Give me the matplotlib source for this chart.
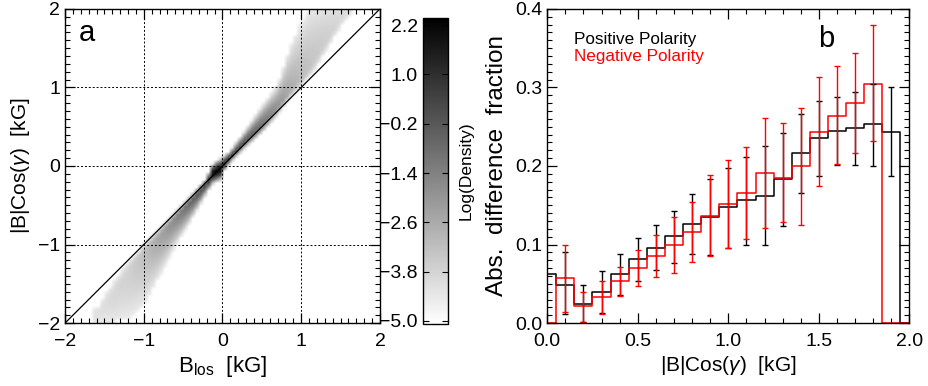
import numpy as np
import matplotlib
matplotlib.use("Agg")
import matplotlib.pyplot as plt
from matplotlib.ticker import MultipleLocator, FormatStrFormatter

plt.rcParams['font.family'] = ['Liberation Sans', 'DejaVu Sans']
plt.rcParams['mathtext.fontset'] = 'custom'
plt.rcParams['mathtext.rm'] = 'Liberation Sans'
plt.rcParams['mathtext.it'] = 'Liberation Sans:italic'

# ---------------- Panel a: density band description ----------------
band_x = [-1.6, -1.4, -1.2, -1.0, -0.8, -0.6, -0.4, -0.2, -0.125, -0.075,
          -0.025, 0.025, 0.1, 0.3, 0.5, 0.7, 0.85, 1.0, 1.15, 1.3, 1.5, 1.65]
band_core = [-1.90, -1.65, -1.35, -1.10, -0.88, -0.66, -0.44, -0.22, -0.10, -0.075,
             -0.05, 0.02, 0.10, 0.31, 0.50, 0.72, 0.92, 1.10, 1.30, 1.55, 1.86, 2.0]
band_w_in = [0.08, 0.14, 0.13, 0.10, 0.08, 0.07, 0.06, 0.06, 0.12, 0.14,
             0.14, 0.09, 0.06, 0.07, 0.09, 0.08, 0.07, 0.10, 0.12, 0.12, 0.10, 0.05]
band_w_out = [0.08, 0.32, 0.57, 0.66, 0.52, 0.36, 0.26, 0.13, 0.14, 0.14,
              0.14, 0.11, 0.09, 0.15, 0.25, 0.30, 0.55, 0.70, 0.72, 0.50, 0.20, 0.05]
band_logpeak = [-4.2, -3.9, -3.7, -3.2, -2.4, -1.6, -0.5, 0.7, 2.2, 2.3,
                2.3, 1.4, 0.9, -0.1, -0.9, -1.8, -2.6, -3.1, -3.4, -3.6, -3.9, -4.2]
band_edge_value = -4.4
bin_size = 0.05
cbar_ticks = [2.2, 1.0, -0.2, -1.4, -2.6, -3.8, -5.0]

# ---------------- Panel b data ----------------
bin_centers = [0.0, 0.1, 0.2, 0.3, 0.4, 0.5, 0.6, 0.7, 0.8, 0.9, 1.0,
               1.1, 1.2, 1.3, 1.4, 1.5, 1.6, 1.7, 1.8, 1.9, 2.0]
pos_frac = [0.063, 0.049, 0.0246, 0.039, 0.063, 0.081, 0.096, 0.111, 0.126, 0.135, 0.148,
            0.157, 0.162, 0.183, 0.216, 0.235, 0.245, 0.248, 0.253, 0.2435, 0.0]
neg_frac = [0.0, 0.057, 0.022, 0.033, 0.054, 0.070, 0.086, 0.100, 0.116, 0.136, 0.152,
            0.165, 0.191, 0.185, 0.200, 0.243, 0.264, 0.280, 0.305, 0.0, 0.0]
pos_err_x = [0.1, 0.2, 0.3, 0.4, 0.5, 0.6, 0.7, 0.8, 0.9, 1.0,
             1.1, 1.2, 1.3, 1.4, 1.5, 1.6, 1.7, 1.8, 1.9]
pos_err_hi = [0.090, 0.049, 0.066, 0.088, 0.108, 0.125, 0.143, 0.164, 0.183, 0.197,
              0.212, 0.226, 0.242, 0.266, 0.283, 0.288, 0.294, 0.305, 0.300]
pos_err_lo = [0.011, 0.001, 0.013, 0.036, 0.053, 0.067, 0.076, 0.088, 0.087, 0.096,
              0.100, 0.099, 0.124, 0.165, 0.187, 0.201, 0.201, 0.200, 0.187]
neg_err_x = [0.1, 0.2, 0.3, 0.4, 0.5, 0.6, 0.7, 0.8, 0.9, 1.0,
             1.1, 1.2, 1.3, 1.4, 1.5, 1.6, 1.7, 1.8]
neg_err_hi = [0.100, 0.040, 0.054, 0.072, 0.093, 0.112, 0.135, 0.154, 0.188, 0.207,
              0.224, 0.261, 0.255, 0.274, 0.313, 0.327, 0.344, 0.379]
neg_err_lo = [0.014, 0.001, 0.011, 0.034, 0.047, 0.059, 0.064, 0.078, 0.085, 0.096,
              0.107, 0.121, 0.129, 0.125, 0.174, 0.202, 0.216, 0.232]

fig = plt.figure(figsize=(9.29, 3.86), dpi=100)
TICK_FS = 14
LABEL_FS = 15
VMIN, VMAX = -5.07, 2.37

# ---------------- Panel a ----------------
ax1 = fig.add_axes([0.070, 0.163, 0.339, 0.814])
edges = np.arange(-2.0, 2.0 + bin_size / 2, bin_size)
cent = 0.5 * (edges[:-1] + edges[1:])
X, Y = np.meshgrid(cent, cent)
core = np.interp(cent, band_x, band_core)[None, :]
w_in = np.interp(cent, band_x, band_w_in)[None, :]
w_out = np.interp(cent, band_x, band_w_out)[None, :]
pk = np.interp(cent, band_x, band_logpeak)[None, :]
inside = ((cent >= band_x[0] - bin_size) & (cent <= band_x[-1]))[None, :]
s_out = (Y - core) * np.sign(X + 0.05)
t = np.where(s_out >= 0, s_out / w_out, -s_out / w_in)
Z = pk - (pk - band_edge_value) * t ** 1.6
Z = np.where((t <= 1.05) & inside, np.clip(Z, VMIN, VMAX), VMIN)
cmap = plt.get_cmap('gray_r')
im = ax1.imshow(Z, origin='lower', extent=[-2, 2, -2, 2], cmap=cmap, vmin=VMIN, vmax=VMAX,
                interpolation='bilinear', aspect='auto')
ax1.plot([-2, 2], [-2, 2], color='black', lw=0.9)
for v in [-1, 0, 1]:
    ax1.axvline(v, color='black', lw=0.7, ls=(0, (2, 2)))
    ax1.axhline(v, color='black', lw=0.7, ls=(0, (2, 2)))
ax1.set_xlim(-2, 2)
ax1.set_ylim(-2, 2)
ax1.xaxis.set_major_locator(MultipleLocator(1))
ax1.yaxis.set_major_locator(MultipleLocator(1))
ax1.xaxis.set_minor_locator(MultipleLocator(0.1))
ax1.yaxis.set_minor_locator(MultipleLocator(0.1))
ax1.tick_params(which='both', direction='in', top=True, right=True, labelsize=TICK_FS)
ax1.tick_params(which='major', length=7, width=0.9)
ax1.tick_params(which='minor', length=3.5, width=0.8)
ax1.tick_params(axis='x', which='major', pad=7)
ax1.set_xlabel(r'B$_{\mathrm{los}}$  [kG]', fontsize=16, labelpad=3)
ax1.set_ylabel(r'|B|Cos($\gamma$)  [kG]', fontsize=LABEL_FS, labelpad=4)
ax1.text(-1.83, 1.69, 'a', fontsize=21, ha='left', va='center')
for s in ax1.spines.values():
    s.set_linewidth(1.0)

# colorbar
cax = fig.add_axes([0.455, 0.161, 0.027, 0.792])
cb = fig.colorbar(im, cax=cax, ticks=cbar_ticks)
cb.ax.set_yticklabels([f'{v:.1f}'.replace('-', '\u2212') for v in cbar_ticks])
cax.tick_params(which='both', direction='in', left=True, right=True,
                labelleft=True, labelright=False, labelsize=TICK_FS, length=4)
cb.set_label('Log(Density)', fontsize=12.5, labelpad=8)
cax.yaxis.set_label_position('right')
cb.outline.set_linewidth(1.0)

# ---------------- Panel b ----------------
ax2 = fig.add_axes([0.589, 0.163, 0.390, 0.814])
ax2.step(bin_centers, pos_frac, where='mid', color='black', lw=1.1)
ax2.step(bin_centers, neg_frac, where='mid', color='red', lw=1.1)
pv = np.interp(pos_err_x, bin_centers, pos_frac)
nv = np.interp(neg_err_x, bin_centers, neg_frac)
ax2.errorbar(pos_err_x, pv, yerr=[pv - np.array(pos_err_lo), np.array(pos_err_hi) - pv],
             fmt='none', ecolor='black', elinewidth=1.0, capsize=2, capthick=1.0)
ax2.errorbar(neg_err_x, nv, yerr=[nv - np.array(neg_err_lo), np.array(neg_err_hi) - nv],
             fmt='none', ecolor='red', elinewidth=1.0, capsize=2, capthick=1.0)
ax2.set_xlim(0, 2.0)
ax2.set_ylim(0, 0.4)
ax2.xaxis.set_major_locator(MultipleLocator(0.5))
ax2.xaxis.set_minor_locator(MultipleLocator(0.1))
ax2.yaxis.set_major_locator(MultipleLocator(0.1))
ax2.yaxis.set_minor_locator(MultipleLocator(0.01))
ax2.xaxis.set_major_formatter(FormatStrFormatter('%.1f'))
ax2.yaxis.set_major_formatter(FormatStrFormatter('%.1f'))
ax2.tick_params(which='both', direction='in', top=True, right=True, labelsize=TICK_FS)
ax2.tick_params(which='major', length=7, width=0.9)
ax2.tick_params(which='minor', length=3.5, width=0.8)
ax2.tick_params(axis='x', which='major', pad=7)
ax2.set_xlabel(r'|B|Cos($\gamma$)  [kG]', fontsize=LABEL_FS, labelpad=3)
ax2.set_ylabel('Abs.  difference  fraction', fontsize=17.5, labelpad=5)
ax2.text(0.15, 0.361, 'Positive Polarity', color='black', fontsize=12.3, va='center')
ax2.text(0.15, 0.339, 'Negative Polarity', color='red', fontsize=12.3, va='center')
ax2.text(1.54, 0.362, 'b', fontsize=21, ha='center', va='center')
for s in ax2.spines.values():
    s.set_linewidth(1.0)

fig.savefig('out.png', dpi=100)
